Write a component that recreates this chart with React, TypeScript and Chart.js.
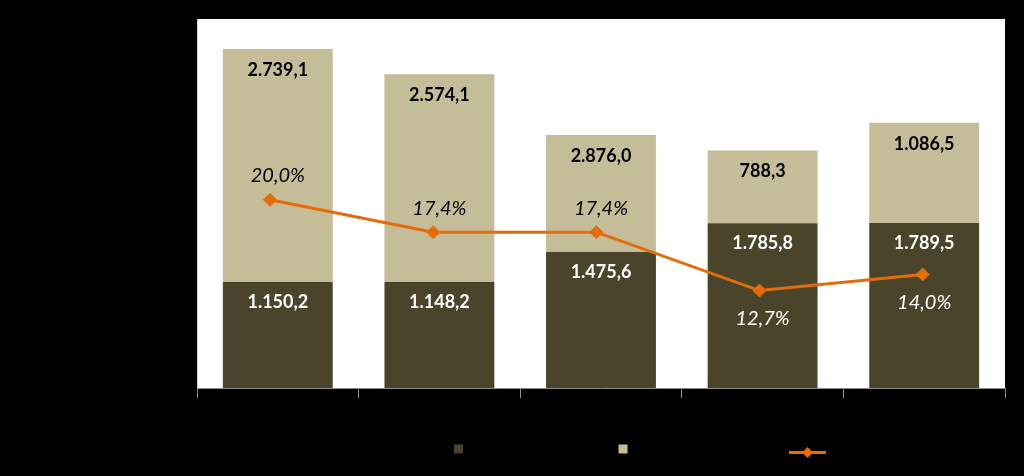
import React, { useEffect, useRef } from 'react';
import { Chart, registerables } from 'chart.js';

Chart.register(...registerables);

// Categories (their labels are not visible in the reference: black on black)
const categories = ['1', '2', '3', '4', '5'];

// Bar segment heights (left axis 0..4000)
const darkValues = [1150.2, 1148.2, 1475.6, 1785.8, 1789.5];
const lightValues = [2525, 2253, 1266, 788.3, 1086.5];

// Texts shown on the bars
const darkLabels = ['1.150,2', '1.148,2', '1.475,6', '1.785,8', '1.789,5'];
const lightLabels = ['2.739,1', '2.574,1', '2.876,0', '788,3', '1.086,5'];

// Percentage line (secondary axis)
const pctValues = [20.0, 17.4, 17.4, 12.7, 14.0];
const pctLabels = ['20,0%', '17,4%', '17,4%', '12,7%', '14,0%'];

const DARK = '#4A452A';
const LIGHT = '#C4BD97';
const ORANGE = '#E46C0A';
const FONT = "Lato, 'Open Sans', 'DejaVu Sans', sans-serif";

const backgroundPlugin = {
  id: 'plotBackground',
  beforeDraw(chart: any) {
    const { ctx, chartArea, width, height } = chart;
    ctx.save();
    ctx.fillStyle = '#000000';
    ctx.fillRect(0, 0, width, height);
    ctx.fillStyle = '#FFFFFF';
    ctx.fillRect(chartArea.left, chartArea.top, chartArea.right - chartArea.left, chartArea.bottom - chartArea.top);
    ctx.strokeStyle = '#D0D0D0';
    ctx.lineWidth = 1;
    ctx.beginPath();
    ctx.moveTo(chartArea.left + 0.5, chartArea.top);
    ctx.lineTo(chartArea.left + 0.5, chartArea.bottom);
    ctx.stroke();
    ctx.restore();
  },
};

const labelPlugin = {
  id: 'valueLabels',
  afterDatasetsDraw(chart: any) {
    const { ctx } = chart;
    ctx.save();
    ctx.textAlign = 'center';
    ctx.textBaseline = 'middle';
    ctx.font = `bold 18px ${FONT}`;
    const darkMeta = chart.getDatasetMeta(0);
    darkMeta.data.forEach((el: any, i: number) => {
      ctx.fillStyle = '#FFFFFF';
      ctx.fillText(darkLabels[i], el.x, el.y + 20);
    });
    const lightMeta = chart.getDatasetMeta(1);
    lightMeta.data.forEach((el: any, i: number) => {
      ctx.fillStyle = '#000000';
      ctx.fillText(lightLabels[i], el.x, el.y + 21);
    });
    ctx.font = `italic 20px ${FONT}`;
    const lineMeta = chart.getDatasetMeta(2);
    const xScale = chart.scales.x;
    lineMeta.data.forEach((pt: any, i: number) => {
      const cx = xScale.getPixelForValue(i);
      const above = i < 3;
      ctx.fillStyle = above ? '#000000' : '#FFFFFF';
      ctx.fillText(pctLabels[i], cx, above ? pt.y - 24 : pt.y + 28);
    });
    ctx.restore();
  },
};

const legendPlugin = {
  id: 'customLegend',
  afterDraw(chart: any) {
    const { ctx } = chart;
    ctx.save();
    const y = 449;
    ctx.fillStyle = DARK;
    ctx.fillRect(454, y - 4.5, 9, 9);
    ctx.fillStyle = LIGHT;
    ctx.fillRect(618.5, y - 4.5, 9, 9);
    ctx.strokeStyle = ORANGE;
    ctx.lineWidth = 3;
    ctx.beginPath();
    ctx.moveTo(789, y + 3.5);
    ctx.lineTo(826, y + 3.5);
    ctx.stroke();
    ctx.fillStyle = ORANGE;
    ctx.beginPath();
    ctx.moveTo(807.5, y + 3.5 - 5.5);
    ctx.lineTo(813, y + 3.5);
    ctx.lineTo(807.5, y + 3.5 + 5.5);
    ctx.lineTo(802, y + 3.5);
    ctx.closePath();
    ctx.fill();
    ctx.restore();
  },
};

export default function App() {
  const canvasRef = useRef<HTMLCanvasElement | null>(null);

  useEffect(() => {
    document.body.style.margin = '0';
    document.body.style.background = '#000000';
    const canvas = canvasRef.current;
    if (!canvas) return;
    const chart = new Chart(canvas, {
      type: 'bar',
      data: {
        labels: categories,
        datasets: [
          {
            type: 'bar',
            label: 'dark',
            data: darkValues,
            backgroundColor: DARK,
            borderWidth: 0,
            stack: 's',
            grouped: false,
            order: 1,
            xAxisID: 'x',
            yAxisID: 'y',
          },
          {
            type: 'bar',
            label: 'light',
            data: lightValues,
            backgroundColor: LIGHT,
            borderWidth: 0,
            stack: 's',
            grouped: false,
            order: 1,
            xAxisID: 'x',
            yAxisID: 'y',
          },
          {
            type: 'line',
            label: 'pct',
            data: pctValues.map((v, i) => ({ x: i, y: v })),
            borderColor: ORANGE,
            backgroundColor: ORANGE,
            borderWidth: 3,
            pointStyle: 'rectRot',
            pointRadius: 6.5,
            pointBackgroundColor: ORANGE,
            pointBorderColor: ORANGE,
            pointBorderWidth: 1,
            tension: 0,
            fill: false,
            order: 0,
            xAxisID: 'x2',
            yAxisID: 'y2',
          } as any,
        ],
      },
      options: {
        responsive: false,
        animation: false,
        events: [],
        layout: { padding: { left: 197, right: 19, top: 19, bottom: 78 } },
        plugins: {
          legend: { display: false },
          tooltip: { enabled: false },
        },
        datasets: {
          bar: { barPercentage: 0.68, categoryPercentage: 1 },
        },
        scales: {
          x: {
            type: 'category',
            display: true,
            offset: true,
            stacked: true,
            ticks: { display: false },
            grid: {
              display: true,
              offset: true,
              drawOnChartArea: false,
              drawTicks: true,
              tickLength: 10,
              color: '#8C8C8C',
            },
            border: { display: true, color: '#8C8C8C', width: 1 },
          },
          x2: {
            type: 'linear',
            display: false,
            offset: false,
            grid: { offset: false },
            min: -0.4474,
            max: 4.5044,
          },
          y: {
            type: 'linear',
            display: false,
            stacked: true,
            min: 0,
            max: 4000,
          },
          y2: {
            type: 'linear',
            display: false,
            min: 4.86,
            max: 34.55,
          },
        },
      },
      plugins: [backgroundPlugin, labelPlugin, legendPlugin],
    } as any);
    return () => chart.destroy();
  }, []);

  return (
    <div style={{ width: 1024, height: 476, background: '#000000' }}>
      <canvas ref={canvasRef} width={1024} height={476} style={{ display: 'block' }} />
    </div>
  );
}
